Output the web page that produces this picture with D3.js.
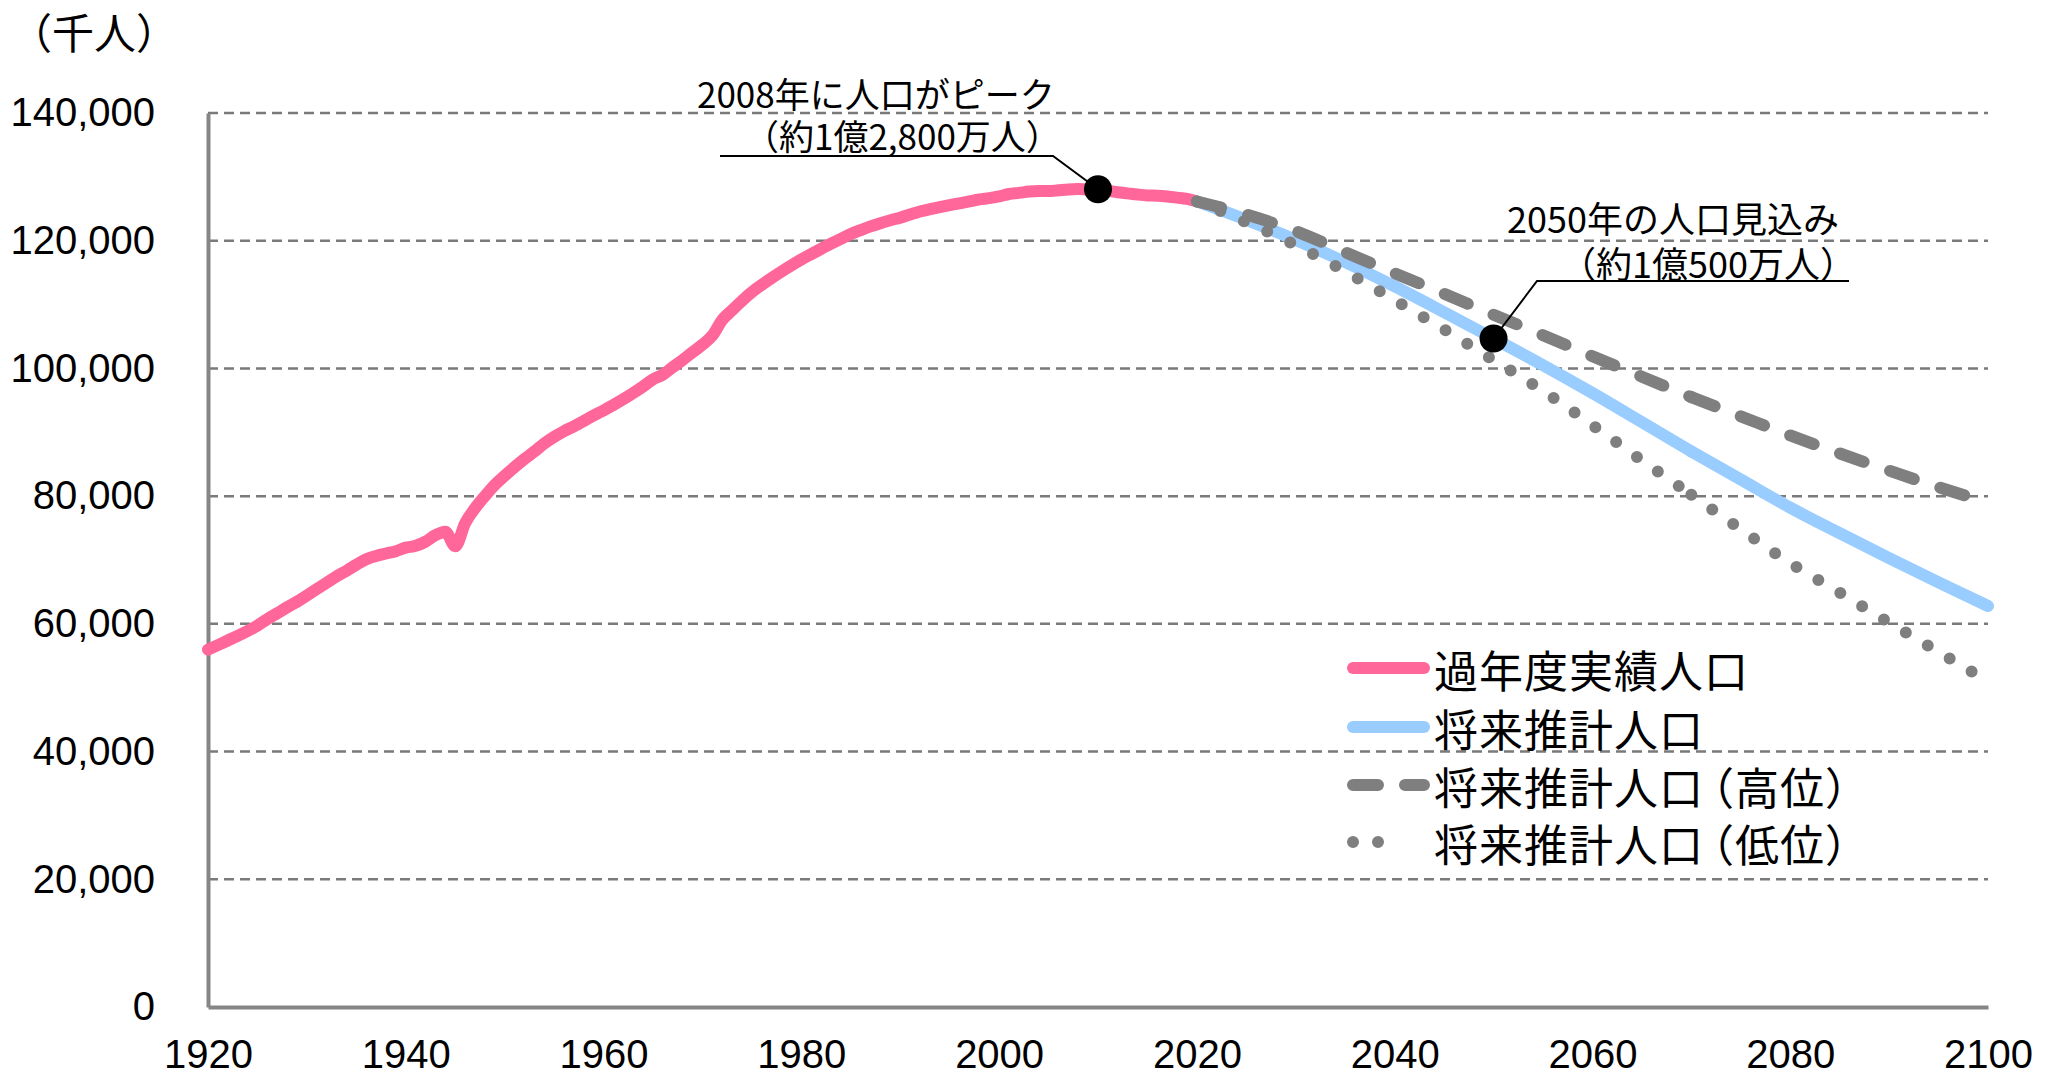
<!DOCTYPE html>
<html lang="ja">
<head>
<meta charset="utf-8">
<script src="https://cdn.jsdelivr.net/npm/d3@7"></script>
<style>
  html, body { margin: 0; padding: 0; background: #fff; }
  svg { display: block; }
  .num { font-family: "Liberation Sans", Arial, sans-serif; }
  .jp { font-family: "Noto Sans CJK JP", "Noto Sans", sans-serif; }
</style>
</head>
<body>
<svg id="chart" width="2051" height="1077"></svg>
<script>
// 実績人口（千人）
const histYears = [1920,1921,1922,1923,1924,1925,1926,1927,1928,1929,
  1930,1931,1932,1933,1934,1935,1936,1937,1938,1939,
  1940,1941,1942,1943,1944,1945,1946,1947,1948,1949,
  1950,1951,1952,1953,1954,1955,1956,1957,1958,1959,
  1960,1961,1962,1963,1964,1965,1966,1967,1968,1969,
  1970,1971,1972,1973,1974,1975,1976,1977,1978,1979,
  1980,1981,1982,1983,1984,1985,1986,1987,1988,1989,
  1990,1991,1992,1993,1994,1995,1996,1997,1998,1999,
  2000,2001,2002,2003,2004,2005,2006,2007,2008,2009,
  2010,2011,2012,2013,2014,2015,2016,2017,2018,2019,2020];
const histPop = [55963,56666,57390,58119,58876,59737,60741,61659,62595,63461,
  64450,65457,66434,67432,68309,69254,70114,70630,71013,71380,
  71933,72218,72880,73903,74433,72147,75750,78101,80002,81773,
  83200,84541,85808,86981,88239,89276,90172,90928,91767,92641,
  93419,94287,95181,96156,97182,98275,99036,100196,101331,102536,
  103720,105145,107595,109104,110573,111940,113094,114165,115190,116155,
  117060,117902,118728,119536,120305,121049,121660,122239,122745,123205,
  123611,124101,124567,124938,125265,125570,125859,126157,126472,126667,
  126926,127316,127486,127694,127787,127768,127901,128033,128084,128032,
  128057,127834,127593,127414,127237,127095,127042,126919,126749,126555,126146];

// 将来推計（2020〜2070）
const projYears = [2020,2025,2030,2035,2040,2045,2050,2055,2060,2065,2070];
const projMid  = [126146,123262,120116,116639,112837,108801,104686,100508,96148,91587,86996];
const projHigh = [126146,124100,121500,118200,114900,111700,108400,105200,101900,98700,95500];
const projLow  = [126146,122900,119300,115200,110700,106100,101300,96500,91100,85600,80200];

// 参考推計（2070〜2100）
const longYears = [2070,2075,2080,2085,2090,2095,2100];
const longMid  = [86996,82600,78200,74200,70300,66500,62800];
const longHigh = [95500,92500,89500,86700,84000,81400,79000];
const longLow  = [80200,74800,69500,64900,60200,55600,51000];

const xTicks = [1920,1940,1960,1980,2000,2020,2040,2060,2080,2100];
const yTicks = [0,20000,40000,60000,80000,100000,120000,140000];

const legendLabels = ["過年度実績人口","将来推計人口","将来推計人口（高位）","将来推計人口（低位）"];

// 注記
const peakNote = { year: 2010, value: 128057, lines: ["2008年に人口がピーク", "（約1億2,800万人）"] };
const futureNote = { year: 2050, value: 104686, lines: ["2050年の人口見込み", "（約1億500万人）"] };

const COLORS = { hist: "#ff6699", mid: "#99ccff", gray: "#7f7f7f" };
const LW = 12;

const svg = d3.select("#chart");
const x = d3.scaleLinear().domain([1920, 2100]).range([208, 1988]);
const y = d3.scaleLinear().domain([0, 140000]).range([1007, 113]);

// 目盛線
svg.append("g").selectAll("line")
  .data(yTicks.filter(v => v > 0))
  .join("line")
  .attr("x1", x(1920)).attr("x2", x(2100))
  .attr("y1", d => y(d)).attr("y2", d => y(d))
  .attr("stroke", "#7a7a7a").attr("stroke-width", 2.5)
  .attr("stroke-dasharray", "10,6");

// 軸
const yAxis = svg.append("g").attr("class", "num")
  .attr("transform", `translate(${x(1920)},0)`)
  .call(d3.axisLeft(y).tickValues(yTicks).tickFormat(d3.format(",")).tickSize(0).tickSizeOuter(0).tickPadding(53));
yAxis.select(".domain").attr("stroke", "#868686").attr("stroke-width", 4);
yAxis.selectAll("text").attr("font-size", 40).attr("fill", "#000")
  .attr("font-family", "Liberation Sans, Arial, sans-serif");

const xAxis = svg.append("g").attr("class", "num")
  .attr("transform", `translate(0,${y(0)})`)
  .call(d3.axisBottom(x).tickValues(xTicks).tickFormat(d3.format("d")).tickSize(0).tickSizeOuter(0).tickPadding(33));
xAxis.select(".domain").attr("stroke", "#868686").attr("stroke-width", 4);
xAxis.selectAll("text").attr("font-size", 40).attr("fill", "#000")
  .attr("font-family", "Liberation Sans, Arial, sans-serif");

// 単位
svg.append("text").attr("class", "jp")
  .attr("x", 10).attr("y", 30).attr("dominant-baseline", "central")
  .attr("font-size", 42).text("（千人）");

// 系列
const line = d3.line().x(d => x(d[0])).y(d => y(d[1])).curve(d3.curveMonotoneX);
const zip = (a, b) => a.map((v, i) => [v, b[i]]);

function drawSeries(pts, color, dash) {
  svg.append("path")
    .attr("d", line(pts))
    .attr("fill", "none")
    .attr("stroke", color)
    .attr("stroke-width", LW)
    .attr("stroke-linecap", "round")
    .attr("stroke-linejoin", "round")
    .attr("stroke-dasharray", dash || null);
}

drawSeries(zip(histYears, histPop), COLORS.hist);
drawSeries(zip(projYears, projMid), COLORS.mid);
drawSeries(zip(longYears, longMid), COLORS.mid);
drawSeries(zip(projYears, projHigh), COLORS.gray, "25,28");
drawSeries(zip(longYears, longHigh), COLORS.gray, "25,28");
drawSeries(zip(projYears, projLow), COLORS.gray, "0,25.5");
drawSeries(zip(longYears, longLow), COLORS.gray, "0,25.5");

// 注記（点・引出線・文字）
function note(n, opt) {
  const px = x(n.year), py = y(n.value);
  svg.append("polyline")
    .attr("points", [[opt.lx1, opt.ly], [opt.lx2, opt.ly], [px, py]].map(p => p.join(",")).join(" "))
    .attr("fill", "none").attr("stroke", "#000").attr("stroke-width", 2);
  svg.append("circle").attr("cx", px).attr("cy", py).attr("r", 14).attr("fill", "#000");
  n.lines.forEach((t, i) => {
    svg.append("text").attr("class", "jp")
      .attr("x", opt.tx[i]).attr("y", opt.ty[i])
      .attr("dominant-baseline", "central")
      .attr("font-size", opt.fs).attr("fill", "#000").text(t);
  });
}

note(peakNote, { lx1: 720, lx2: 1053, ly: 156, tx: [697, 744], ty: [92, 134], fs: 35 });
note(futureNote, { lx1: 1849, lx2: 1537, ly: 281, tx: [1507, 1560], ty: [217, 262], fs: 36 });

// 凡例
const legendY = [668, 727, 785, 842];
const legendStyle = [
  { c: COLORS.hist, dash: null, x2: 1424 },
  { c: COLORS.mid, dash: null, x2: 1424 },
  { c: COLORS.gray, dash: "25,27", x2: 1424 },
  { c: COLORS.gray, dash: "0,25", x2: 1403 }
];
const lg = svg.append("g");
legendLabels.forEach((lab, i) => {
  lg.append("line")
    .attr("x1", 1353).attr("x2", legendStyle[i].x2)
    .attr("y1", legendY[i]).attr("y2", legendY[i])
    .attr("stroke", legendStyle[i].c).attr("stroke-width", LW)
    .attr("stroke-linecap", "round")
    .attr("stroke-dasharray", legendStyle[i].dash);
  const t = lg.append("text").attr("class", "jp")
    .attr("x", 1434).attr("y", legendY[i] + 1)
    .attr("dominant-baseline", "central")
    .attr("letter-spacing", 1)
    .attr("font-size", 44).attr("fill", "#000");
  // 全角括弧の前の余白を詰める
  const k = lab.indexOf("（");
  if (k < 0) {
    t.text(lab);
  } else {
    t.append("tspan").text(lab.slice(0, k));
    t.append("tspan").attr("dx", -14).text(lab.slice(k));
  }
});
</script>
</body>
</html>
